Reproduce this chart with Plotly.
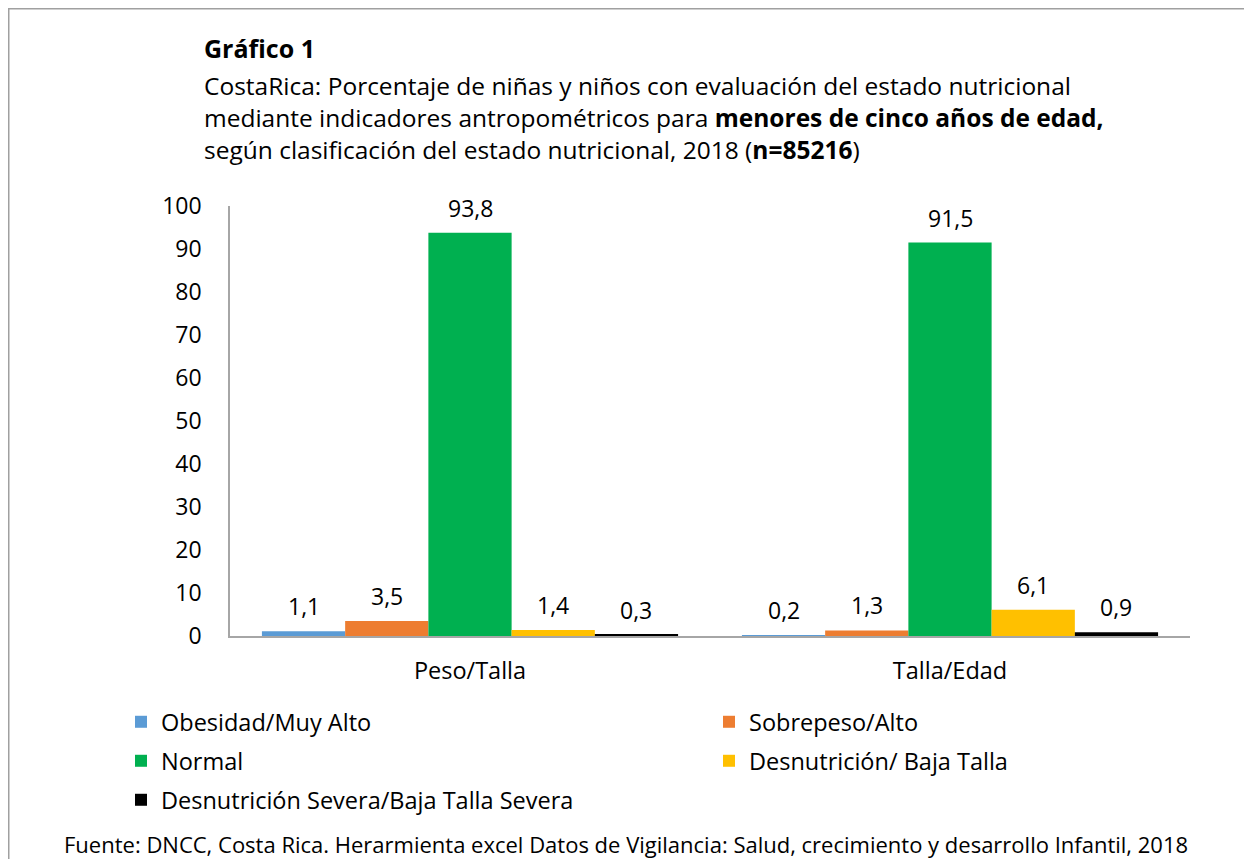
import plotly.graph_objects as go

categories = ["Peso/Talla", "Talla/Edad"]
series_names = [
    "Obesidad/Muy Alto",
    "Sobrepeso/Alto",
    "Normal",
    "Desnutrición/ Baja Talla",
    "Desnutrición Severa/Baja Talla Severa",
]
obesidad = [1.1, 0.2]
sobrepeso = [3.5, 1.3]
normal = [93.8, 91.5]
desnutricion = [1.4, 6.1]
severa = [0.3, 0.9]
series_values = [obesidad, sobrepeso, normal, desnutricion, severa]
colors = ["#5B9BD5", "#ED7D31", "#00B050", "#FFC000", "#000000"]
y_ticks = list(range(0, 101, 10))

title_text = "<b>Gráfico 1</b>"
subtitle_lines = [
    "CostaRica: Porcentaje de niñas y niños con evaluación del estado nutricional",
    "mediante indicadores antropométricos para <b>menores de cinco años de edad,</b>",
    "según clasificación del estado nutricional, 2018 (<b>n=85216</b>)",
]
source_text = ("Fuente: DNCC, Costa Rica. Herarmienta excel Datos de Vigilancia: Salud, "
               "crecimiento y desarrollo Infantil, 2018")

FONT = "Open Sans"
OFF = 8  # page body margin
W, H = 1252 - OFF, 859 - OFF
PL, PR, PT, PB = 230, 1190, 206, 636  # plot area in reference pixels
L, R, T, B = PL - OFF, W - (PR - OFF), PT - OFF, H - (PB - OFF)
pw, ph = PR - PL, PB - PT
bargap = 0.133


def px_x(p):
    return (p - PL) / pw


def px_y(p):
    return (PB - p) / ph


legend_pos = [(121, 722), (709, 722), (121, 761), (709, 761), (121, 800)]
legend_keys = ["legend", "legend2", "legend3", "legend4", "legend5"]

fig = go.Figure()
for i, (name, vals) in enumerate(zip(series_names, series_values)):
    fig.add_trace(go.Bar(
        x=categories, y=vals, name=name,
        marker=dict(color=colors[i], line=dict(width=0)),
        legend=legend_keys[i],
    ))

barw = pw / len(categories) * (1 - bargap) / len(series_names)
annotations = []
for i, vals in enumerate(series_values):
    for c, v in zip(categories, vals):
        annotations.append(dict(
            x=c, y=v, xref="x", yref="y", text=f"{v:.1f}".replace(".", ","),
            showarrow=False, xshift=(i - 2) * barw, yshift=25,
            yanchor="middle", font=dict(family=FONT, size=23, color="#000000"),
        ))

annotations.append(dict(
    x=px_x(202), y=px_y(48), xref="paper", yref="paper", xanchor="left", yanchor="middle",
    text=title_text, showarrow=False, align="left",
    font=dict(family=FONT, size=25, color="#000000"),
))
annotations.append(dict(
    x=px_x(202), y=px_y(118), xref="paper", yref="paper", xanchor="left", yanchor="middle",
    text="<br>".join(subtitle_lines), showarrow=False, align="left",
    font=dict(family=FONT, size=24.5, color="#000000"),
))
annotations.append(dict(
    x=px_x(626), y=px_y(844), xref="paper", yref="paper", xanchor="center", yanchor="middle",
    text=source_text, showarrow=False, font=dict(family=FONT, size=22, color="#000000"),
))

layout_legends = {}
for key, (lx, ly) in zip(legend_keys, legend_pos):
    layout_legends[key] = dict(
        orientation="v", xanchor="left", yanchor="middle",
        x=px_x(lx), y=px_y(ly),
        font=dict(family=FONT, size=23.5, color="#000000"), bgcolor="rgba(0,0,0,0)",
        itemwidth=30, borderwidth=0,
    )

fig.update_layout(
    width=W, height=H,
    margin=dict(l=L, r=R, t=T, b=B, autoexpand=False),
    paper_bgcolor="#FFFFFF", plot_bgcolor="#FFFFFF",
    barmode="group", bargap=bargap, bargroupgap=0,
    separators=",.",
    showlegend=True,
    annotations=annotations,
    font=dict(family=FONT, size=23, color="#000000"),
    xaxis=dict(
        showgrid=False, showline=True, linecolor="#A6A6A6", linewidth=1.5,
        ticks="", tickfont=dict(family=FONT, size=23.5, color="#000000"),
        ticklabelstandoff=13, zeroline=False,
    ),
    yaxis=dict(
        range=[0, 100], tickvals=y_ticks, showgrid=False, showline=True,
        linecolor="#A6A6A6", linewidth=1.5, ticks="", zeroline=False,
        tickfont=dict(family=FONT, size=23, color="#000000"), ticklabelstandoff=22,
    ),
    shapes=[dict(
        type="rect", xref="paper", yref="paper",
        x0=px_x(OFF + 0.75), x1=px_x(1250), y0=px_y(OFF + 0.75), y1=px_y(880),
        line=dict(color="#A0A0A0", width=1.5), fillcolor="rgba(0,0,0,0)", layer="above",
    )],
    **layout_legends,
)

fig.write_html("out.html")
